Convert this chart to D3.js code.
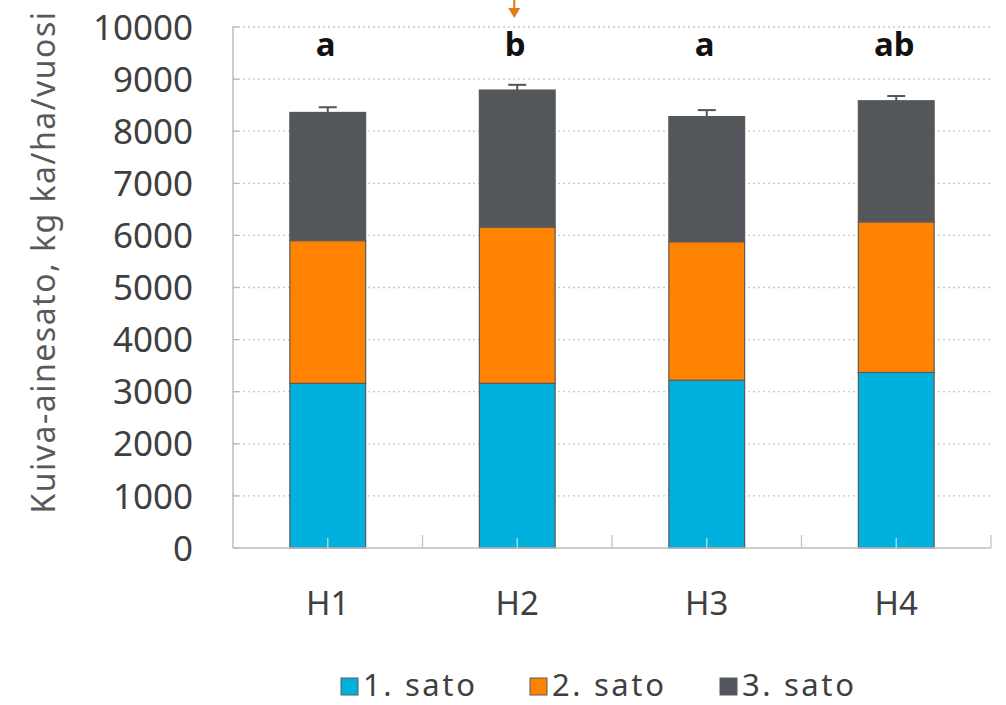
<!DOCTYPE html>
<html>
<head>
<meta charset="utf-8">
<script src="https://cdn.jsdelivr.net/npm/d3@7"></script>
<style>
  html, body { margin: 0; padding: 0; background: #fff; }
  svg { display: block; font-family: "Noto Sans", "Open Sans", sans-serif; }
</style>
</head>
<body>
<svg id="chart" width="1006" height="705"></svg>
<script>
// Dry matter yield per harvest (kg DM/ha/year)
const categories = ["H1", "H2", "H3", "H4"];
const seriesNames = ["1. sato", "2. sato", "3. sato"];
const sato1 = [3160, 3160, 3220, 3370];
const sato2 = [2740, 3000, 2660, 2890];
const sato3 = [2460, 2630, 2400, 2325];
const errors = [100, 100, 125, 90];
const letters = ["a", "b", "a", "ab"];
const yTicks = [0, 1000, 2000, 3000, 4000, 5000, 6000, 7000, 8000, 9000, 10000];
const colors = ["#00b0dd", "#ff8200", "#53565a"];

const svg = d3.select("#chart");
const plotLeft = 233, plotRight = 991, plotTop = 27, plotBottom = 548;

const x = d3.scaleBand().domain(categories).range([plotLeft, plotRight]).paddingInner(0.6).paddingOuter(0.3);
const xOuter = d3.scaleBand().domain(categories).range([plotLeft, plotRight]);
const y = d3.scaleLinear().domain([0, 10000]).range([plotBottom, plotTop]);

const rows = categories.map((c, i) => ({ cat: c, s0: sato1[i], s1: sato2[i], s2: sato3[i] }));
const stacked = d3.stack().keys(["s0", "s1", "s2"])(rows);

// gridlines (dotted)
svg.append("g").selectAll("line").data(yTicks.filter(d => d > 0)).join("line")
  .attr("x1", plotLeft).attr("x2", plotRight)
  .attr("y1", d => y(d)).attr("y2", d => y(d))
  .attr("stroke", "#c8c8c8").attr("stroke-width", 1.3)
  .attr("stroke-dasharray", "2,3");

// short solid marks at the axis
svg.append("g").selectAll("line").data(yTicks).join("line")
  .attr("x1", plotLeft).attr("x2", plotLeft + 6)
  .attr("y1", d => y(d)).attr("y2", d => y(d))
  .attr("stroke", "#b8b8b8").attr("stroke-width", 1.3);

// y tick labels
svg.append("g").selectAll("text").data(yTicks).join("text")
  .attr("x", 193).attr("y", d => y(d)).attr("dy", "0.36em")
  .attr("text-anchor", "end")
  .attr("font-size", 35).attr("fill", "#3f3f3f")
  .text(d => d);

// y axis title
svg.append("text")
  .attr("transform", `translate(55,262) rotate(-90)`)
  .attr("text-anchor", "middle")
  .attr("font-size", 32).attr("letter-spacing", 1.5).attr("fill", "#595959")
  .text("Kuiva-ainesato, kg ka/ha/vuosi");

// stacked bars
svg.append("g").selectAll("g").data(stacked).join("g")
  .attr("fill", (d, i) => colors[i])
  .selectAll("rect").data(d => d).join("rect")
  .attr("x", d => x(d.data.cat))
  .attr("width", x.bandwidth())
  .attr("y", d => y(d[1]))
  .attr("height", d => y(d[0]) - y(d[1]))
  .attr("stroke", "#5a5a5a").attr("stroke-width", 1.2);

// axis lines
svg.append("line").attr("x1", plotLeft).attr("x2", plotLeft).attr("y1", plotTop - 1).attr("y2", plotBottom)
  .attr("stroke", "#bdbdbd").attr("stroke-width", 1.5);
svg.append("line").attr("x1", plotLeft).attr("x2", plotRight).attr("y1", plotBottom).attr("y2", plotBottom)
  .attr("stroke", "#bdbdbd").attr("stroke-width", 1.5);

// x tick marks at band boundaries
svg.append("g").selectAll("line").data(categories).join("line")
  .attr("x1", d => xOuter(d) + xOuter.bandwidth()).attr("x2", d => xOuter(d) + xOuter.bandwidth())
  .attr("y1", plotBottom).attr("y2", plotBottom - 13)
  .attr("stroke", "#c4c4c4").attr("stroke-width", 1.3);
// faint marks at category centres
svg.append("g").selectAll("line").data(categories).join("line")
  .attr("x1", d => x(d) + x.bandwidth() / 2).attr("x2", d => x(d) + x.bandwidth() / 2)
  .attr("y1", plotBottom).attr("y2", plotBottom - 10)
  .attr("stroke", "#b9dbe6").attr("stroke-width", 1.3);

// error bars
const totals = categories.map((c, i) => sato1[i] + sato2[i] + sato3[i]);
const eb = svg.append("g").attr("stroke", "#555").attr("stroke-width", 2);
eb.selectAll("line.v").data(categories).join("line").attr("class", "v")
  .attr("x1", d => x(d) + x.bandwidth() / 2).attr("x2", d => x(d) + x.bandwidth() / 2)
  .attr("y1", (d, i) => y(totals[i])).attr("y2", (d, i) => y(totals[i] + errors[i]));
eb.selectAll("line.h").data(categories).join("line").attr("class", "h")
  .attr("x1", d => x(d) + x.bandwidth() / 2 - 9).attr("x2", d => x(d) + x.bandwidth() / 2 + 9)
  .attr("y1", (d, i) => y(totals[i] + errors[i])).attr("y2", (d, i) => y(totals[i] + errors[i]));

// significance letters
svg.append("g").selectAll("text").data(categories).join("text")
  .attr("x", d => x(d) + x.bandwidth() / 2 - 2)
  .attr("y", 56)
  .attr("text-anchor", "middle")
  .attr("font-size", 33).attr("font-weight", "bold").attr("fill", "#111")
  .text((d, i) => letters[i]);

// category labels
svg.append("g").selectAll("text").data(categories).join("text")
  .attr("x", d => x(d) + x.bandwidth() / 2)
  .attr("y", 615)
  .attr("text-anchor", "middle")
  .attr("font-size", 33).attr("fill", "#3f3f3f")
  .text(d => d);

// marker arrow above H2
const ax = x("H2") + x.bandwidth() / 2 - 3;
svg.append("line").attr("x1", ax).attr("x2", ax).attr("y1", 0).attr("y2", 9)
  .attr("stroke", "#e27a18").attr("stroke-width", 2);
svg.append("path").attr("d", `M${ax - 6},8 L${ax + 6},8 L${ax},18 Z`).attr("fill", "#e27a18");

// legend
const legendX = [341, 530, 720];
const lg = svg.append("g").selectAll("g").data(seriesNames).join("g")
  .attr("transform", (d, i) => `translate(${legendX[i]},678)`);
lg.append("rect").attr("width", 17).attr("height", 17)
  .attr("fill", (d, i) => colors[i]).attr("stroke", "#5a5a5a").attr("stroke-width", 1);
lg.append("text").attr("x", 22).attr("y", 18)
  .attr("font-size", 31).attr("letter-spacing", 2.6).attr("fill", "#3f3f3f")
  .text(d => d);
</script>
</body>
</html>
